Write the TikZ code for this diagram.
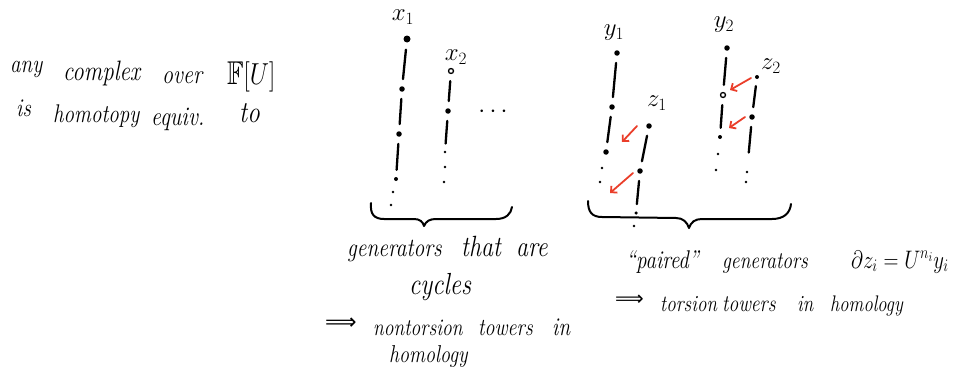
\documentclass[tikz,border=0pt]{standalone}
\usepackage{amssymb}
\usepackage{graphicx}
\usepackage{fontspec}
\newfontfamily\symfam{DejaVu Sans}
\newcommand{\hw}[1]{\scalebox{1}[1.22]{#1}}
\usetikzlibrary{arrows.meta}
\definecolor{inkred}{RGB}{234,62,42}
\begin{document}
\begin{tikzpicture}[x=1pt,y=-1pt,
  bigdot/.style={circle,fill=black,inner sep=0pt,minimum size=7pt},
  dot/.style={circle,fill=black,inner sep=0pt,minimum size=5.5pt},
  odot/.style={circle,draw=black,line width=1.3pt,fill=white,inner sep=0pt,minimum size=5pt},
  tinydot/.style={circle,fill=black,inner sep=0pt,minimum size=2.6pt},
  seg/.style={line width=2.3pt,line cap=round,shorten <=7pt,shorten >=7pt},
  bracepath/.style={line width=2pt,line cap=round,line join=round},
  redarr/.style={draw=inkred,line width=1.8pt,line cap=round,-{Straight Barb[length=4.5pt,width=9pt]}},
  w/.style={anchor=base west,inner sep=0pt,font=\fontsize{#1}{#1}\selectfont\itshape},
  implies/.style={anchor=base west,inner sep=0pt,font=\fontsize{#1}{#1}\selectfont\symfam},
  lab/.style={inner sep=0pt,font=\fontsize{23}{23}\selectfont}]
\useasboundingbox (0,0) rectangle (972,372);

% ---------- upper left text ----------
\node[w=21] (any) at (10,72) {\hw{any}};
\node[w=23] (complex) at (63,80) {\hw{complex}};
\node[w=22] (over) at (162,83) {\hw{over}};
\node[w=27] (FU) at (227,84) {\hw{$\mathbb{F}[U]$}};
\node[w=21] (is) at (16,116) {\hw{is}};
\node[w=21] (homotopy) at (53,122) {\hw{homotopy}};
\node[w=22] (equiv) at (151,125) {\hw{equiv.}};
\node[w=25] (to) at (239,122) {\hw{to}};

% ---------- tower x1 ----------
\node[lab] (lx1) at (403,17) {$x_1$};
\node[bigdot] (x1a) at (407,39) {};
\node[dot] (x1b) at (402,89) {};
\node[dot] (x1c) at (399,134) {};
\node[dot,minimum size=4pt] (x1d) at (396,179) {};
\node[tinydot] (x1e) at (393,192) {};
\node[tinydot] (x1f) at (391,205) {};
\draw[seg] (x1a) -- (x1b);
\draw[seg] (x1b) -- (x1c);
\draw[seg] (x1c) -- (x1d);

% ---------- tower x2 ----------
\node[lab] (lx2) at (456,57) {$x_2$};
\node[odot] (x2a) at (451,71) {};
\node[dot] (x2b) at (448,111) {};
\node[tinydot] (x2c) at (445,152) {};
\node[tinydot] (x2d) at (445,167) {};
\node[tinydot] (x2e) at (444,182) {};
\draw[seg] (x2a) -- (x2b);
\draw[seg] (x2b) -- (x2c);
\node[lab] (more) at (493,112) {$\cdots$};

% ---------- tower y1 / z1 ----------
\node[lab] (ly1) at (614,33) {$y_1$};
\node[dot] (y1a) at (617,53) {};
\node[dot] (y1b) at (612,107) {};
\node[dot] (y1c) at (606,152) {};
\node[tinydot] (y1d) at (602,168) {};
\node[tinydot] (y1e) at (600,182) {};
\draw[seg] (y1a) -- (y1b);
\draw[seg] (y1b) -- (y1c);

\node[lab] (lz1) at (657,103) {$z_1$};
\node[dot] (z1a) at (649,126) {};
\node[dot] (z1b) at (640,171) {};
\node[dot,minimum size=3.5pt] (z1c) at (636,213) {};
\node[tinydot] (z1d) at (634,226) {};
\draw[seg] (z1a) -- (z1b);
\draw[seg] (z1b) -- (z1c);

\coordinate (r1s) at (637,126);
\coordinate (r1e) at (622,142);
\coordinate (r2s) at (633,173);
\coordinate (r2e) at (610,193);
\draw[redarr] (r1s) -- (r1e);
\draw[redarr] (r2s) -- (r2e);

% ---------- tower y2 / z2 ----------
\node[lab] (ly2) at (724,25) {$y_2$};
\node[dot] (y2a) at (727,48) {};
\node[odot] (y2b) at (723,95) {};
\node[dot,minimum size=4pt] (y2c) at (720,137) {};
\node[tinydot] (y2d) at (718,154) {};
\node[tinydot] (y2e) at (716,170) {};
\draw[seg] (y2a) -- (y2b);
\draw[seg] (y2b) -- (y2c);

\node[lab] (lz2) at (771,66) {$z_2$};
\node[dot,minimum size=4pt] (z2a) at (757,77) {};
\node[dot] (z2b) at (752,117) {};
\node[tinydot] (z2c) at (747,172) {};
\node[tinydot] (z2d) at (746,182) {};
\draw[seg] (z2a) -- (z2b);
\draw[seg,shorten >=18pt] (z2b) -- (z2c);

\coordinate (r3s) at (751,78);
\coordinate (r3e) at (730,90);
\coordinate (r4s) at (745,117);
\coordinate (r4e) at (729,128);
\draw[redarr] (r3s) -- (r3e);
\draw[redarr] (r4s) -- (r4e);

% ---------- braces ----------
\draw[bracepath] (371,203) .. controls (370,214) and (374,219) .. (384,219)
  -- (414,219) .. controls (420,219) and (423,222) .. (424,226)
  .. controls (426,221) and (430,219) .. (436,219) -- (496,219)
  .. controls (506,219) and (511,214) .. (512,207);
\draw[bracepath] (588,201) .. controls (588,212) and (592,217) .. (602,217)
  -- (676,218) .. controls (683,218) and (687,222) .. (689,228)
  .. controls (691,222) and (695,219) .. (702,219) -- (772,219)
  .. controls (784,219) and (790,213) .. (791,204);

% ---------- lower left text ----------
\node[w=21.5] (gen1) at (347,256) {\hw{generators}};
\node[w=24] (that) at (461,256) {\hw{that}};
\node[w=24] (are) at (516,256) {\hw{are}};
\node[w=25] (cycles) at (409,294) {\hw{cycles}};
\node[implies=22] (imp1) at (325,329) {⟹};
\node[w=19.5] (nontorsion) at (373,335) {\hw{nontorsion}};
\node[w=20] (towers1) at (478,335) {\hw{towers}};
\node[w=21] (in1) at (552,335) {\hw{in}};
\node[w=20] (homology1) at (389,362) {\hw{homology}};

% ---------- lower right text ----------
\node[w=21] (paired) at (626,268) {\hw{``paired''}};
\node[w=19.5] (gen2) at (722,268) {\hw{generators}};
\node[w=22] (dz) at (851,268) {\hw{$\partial z_i = U^{n_i} y_i$}};
\node[implies=20] (imp2) at (615,305) {⟹};
\node[w=19] (torsion) at (660,311) {\hw{torsion}};
\node[w=19.5] (towers2) at (722,311) {\hw{towers}};
\node[w=19] (in2) at (797,311) {\hw{in}};
\node[w=18.5] (homology2) at (830,311) {\hw{homology}};
\end{tikzpicture}
\end{document}
